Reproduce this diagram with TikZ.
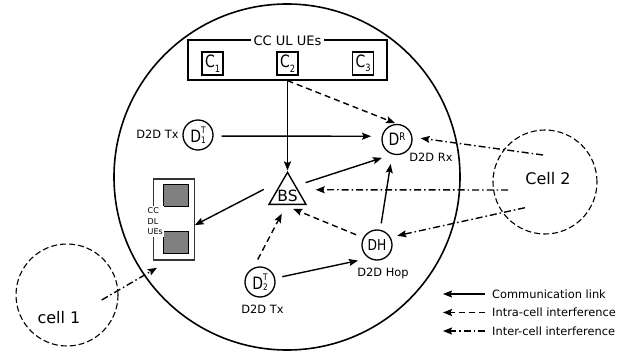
\documentclass[tikz,border=0pt]{standalone}
\usepackage{fontspec}
\setmainfont{DejaVu Sans}
\newfontfamily\cond[FakeStretch=0.82]{DejaVu Sans}
\usetikzlibrary{arrows.meta,shapes.geometric}
\newcommand\dss[2]{\raisebox{-0.5pt}{\fontsize{9}{8.5}\selectfont\shortstack[l]{#1\\#2}}}
\begin{document}
\begin{tikzpicture}[x=1pt,y=-1pt,
  lbl/.style={font=\fontsize{11.4}{13}\selectfont, inner sep=0pt},
  dev/.style={draw, circle, line width=1.3pt, minimum size=30pt, inner sep=0pt, font=\cond\fontsize{17}{17}\selectfont},
  ue/.style={draw, line width=1.3pt, minimum width=21pt, minimum height=23pt, inner sep=0pt, font=\cond\fontsize{17}{17}\selectfont},
  dlue/.style={draw, line width=1.5pt, fill=gray, minimum width=25pt, minimum height=22pt, inner sep=0pt},
  link/.style={line width=1.4pt, -{Stealth[length=9pt,width=7pt,inset=1.5pt]}},
  intra/.style={link, dash pattern=on 6pt off 4pt},
  inter/.style={link, dash pattern=on 7pt off 3pt on 1.5pt off 3pt},
  cellc/.style={draw, circle, line width=1.1pt, dash pattern=on 6pt off 3pt, inner sep=0pt},
  legtext/.style={lbl, anchor=west}
]
\useasboundingbox (0,0) rectangle (638,353);
% main cell
\node[draw, circle, minimum size=346pt, line width=1.6pt, inner sep=0pt] (cell0) at (287,177) {};
% neighbour cells
\node[cellc, minimum size=102pt] (cell1) at (67,295) {};
\node[cellc, minimum size=104pt] (cell2) at (545,182) {};
\node[font=\fontsize{16}{16}\selectfont] (cell1t) at (59,318) {cell 1};
\node[font=\fontsize{16}{16}\selectfont] (cell2t) at (548,179) {Cell 2};
% CC UL UEs
\node[draw, line width=1.3pt, minimum width=199pt, minimum height=40pt, inner sep=0pt] (ul) at (287.5,60) {};
\node[font=\fontsize{13}{13}\selectfont, fill=white, inner sep=2.5pt] (ult) at (287.5,41) {CC UL UEs};
\node[ue] (c1) at (212.5,63.5) {C\raisebox{-4.5pt}{\fontsize{10}{10}\selectfont 1}};
\node[ue] (c2) at (287.5,63.5) {C\raisebox{-4.5pt}{\fontsize{10}{10}\selectfont 2}};
\node[ue] (c3) at (363,63.5) {C\raisebox{-4.5pt}{\fontsize{10}{10}\selectfont 3}};
% CC DL UEs
\node[draw=black!80, line width=1.1pt, minimum width=41pt, minimum height=81pt, inner sep=0pt] (dl) at (173.7,219.5) {};
\node[dlue] (dl1) at (176,195.7) {};
\node[dlue] (dl2) at (176,242.5) {};
\node[font=\fontsize{8}{10.5}\selectfont, align=left, fill=white, inner sep=1.5pt, anchor=west] (dlt) at (146,221.5) {CC\\DL\\UEs};
% BS
\node[regular polygon, regular polygon sides=3, draw, line width=1.4pt, minimum size=42.7pt, inner sep=0pt] (bs) at (287.5,193.7) {};
\node[font=\fontsize{15.5}{15.5}\selectfont, inner sep=0pt] (bst) at (287.5,196) {BS};
% devices
\node[dev] (d1) at (198,135) {D\dss{T}{1}};
\node[dev] (dr) at (397,139.5) {D\raisebox{5pt}{\fontsize{10.5}{10.5}\selectfont R}};
\node[dev, font=\cond\fontsize{15}{15}\selectfont] (dh) at (377,245) {DH};
\node[dev] (d2) at (260,282) {D\dss{T}{2}};
\node[lbl] (d1t) at (157.5,134.5) {D2D Tx};
\node[lbl] (drt) at (431,157) {D2D Rx};
\node[lbl] (dht) at (383,273) {D2D Hop};
\node[lbl] (d2t) at (262.5,309) {D2D Tx};
% interference sources
\coordinate (s1) at (543,155);
\coordinate (s2) at (508,190);
\coordinate (s3) at (525,207.7);
\coordinate (s4) at (101.7,300);
% links
\draw[link, shorten >=0.5pt] (ul.south) -- (bs.corner 1);
\draw[intra, shorten >=2pt] (ul.south) -- (dr.north);
\draw[link, shorten <=8pt, shorten >=10.6pt] (d1.-4) -- (dr.168);
\draw[link, shorten <=10pt, shorten >=11pt] (bs.43) -- (dr.253);
\draw[link, shorten <=21pt] (bs.110) -- (dl.-15);
\draw[intra, shorten <=9.4pt, shorten >=9.7pt] (d2.115) -- (bs.264);
\draw[link, shorten <=7.3pt, shorten >=11pt] (d2.14) -- (dh.238);
\draw[link, shorten <=6.4pt, shorten >=9.7pt] (dh.78) -- (dr.252);
\draw[intra, shorten <=7.7pt, shorten >=10pt] (dh.152) -- (bs.252);
\draw[inter, shorten >=8.3pt] (s1) -- (dr.9);
\draw[inter, shorten >=17.3pt] (s2) -- (bs.20);
\draw[inter, shorten >=6.9pt] (s3) -- (dh.30);
\draw[inter, shorten >=14.4pt] (s4) -- (dl.264);
% legend
\node[legtext] (l1) at (492,294) {Communication link};
\node[legtext] (l2) at (492,312.5) {Intra-cell interference};
\node[legtext] (l3) at (492,331) {Inter-cell interference};
\coordinate (k1) at (443,294);
\coordinate (k2) at (443,312.5);
\coordinate (k3) at (443,331);
\draw[link, shorten <=7pt] (l1.west) -- (k1);
\draw[intra, shorten <=7pt] (l2.west) -- (k2);
\draw[inter, shorten <=7pt] (l3.west) -- (k3);
\end{tikzpicture}
\end{document}
